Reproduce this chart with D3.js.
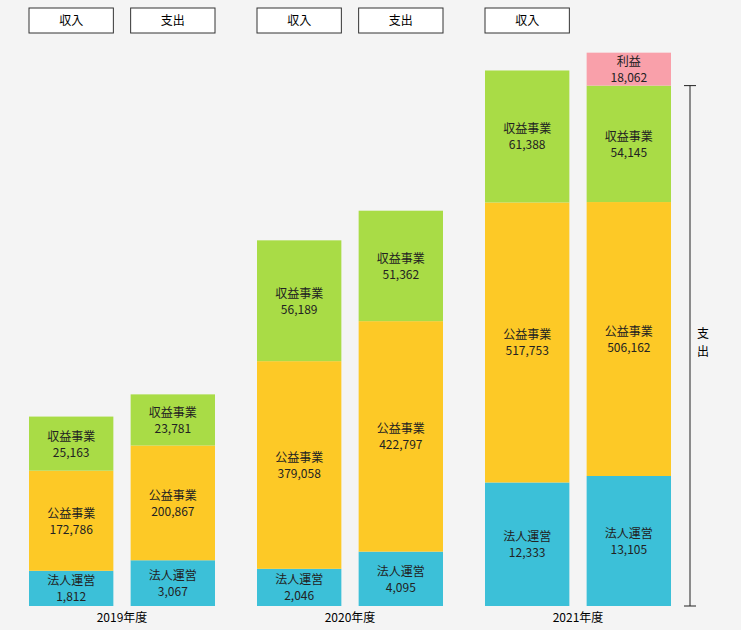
<!DOCTYPE html>
<html><head><meta charset="utf-8">
<script src="https://cdn.jsdelivr.net/npm/d3@7"></script>
<style>
body{margin:0;background:#f4f4f4;font-family:"Noto Sans CJK JP","Noto Sans",sans-serif;}
</style></head>
<body><svg id="svg1" width="741" height="630"></svg>
<script>
var years = ["2019年度", "2020年度", "2021年度"];
var sides = ["収入", "支出"];
var categories = ["法人運営", "公益事業", "収益事業", "利益"];
var incomeHojin = [1812, 2046, 12333];
var incomeKoeki = [172786, 379058, 517753];
var incomeShueki = [25163, 56189, 61388];
var expenseHojin = [3067, 4095, 13105];
var expenseKoeki = [200867, 422797, 506162];
var expenseShueki = [23781, 51362, 54145];
var profit = [0, 0, 18062];
var colors = {"法人運営": "#3cc0d8", "公益事業": "#fdc926", "収益事業": "#a9dc46", "利益": "#f9a0aa"};

var baseline = 606;
var svg = d3.select("#svg1");

// build rows: one per bar
var rows = [];
years.forEach(function(y, i) {
  rows.push({year: y, side: "収入", vals: [incomeHojin[i], incomeKoeki[i], incomeShueki[i], 0]});
  rows.push({year: y, side: "支出", vals: [expenseHojin[i], expenseKoeki[i], expenseShueki[i], profit[i]]});
});

// segments are not drawn to one common scale in the original; each category has its own
var scale = {
  x0: d3.scaleBand().domain(years).range([8, 692]),
  x1: d3.scaleBand().domain(sides).range([21, 207]).paddingInner(0.17),
  h: {
    "法人運営": d3.scaleLinear().domain([0, 13105]).range([20, 130]),
    "公益事業": d3.scaleLinear().domain([0, 517753]).range([10, 280]),
    "収益事業": d3.scaleLinear().domain([0, 61388]).range([0, 132]),
    "利益": d3.scaleLinear().domain([0, 61388]).range([0, 112])
  }
};
var bw = scale.x1.bandwidth();

rows.forEach(function(r) {
  var x = scale.x0(r.year) + scale.x1(r.side);
  var y = baseline;
  var g = svg.append("g");
  r.vals.forEach(function(v, k) {
    if (!v) return;
    var cat = categories[k];
    var h = scale.h[cat](v);
    y -= h;
    g.append("rect").attr("x", x).attr("y", y).attr("width", bw).attr("height", h)
      .attr("fill", colors[cat]);
    var t = g.append("text").attr("text-anchor", "middle").attr("font-size", 12).attr("fill", "#222");
    t.append("tspan").attr("x", x + bw / 2).attr("y", y + h / 2 - 3).text(cat);
    t.append("tspan").attr("x", x + bw / 2).attr("y", y + h / 2 + 13).text(d3.format(",")(v));
    if (cat === "収益事業") r.top = y;
  });
  if (r.vals[3]) {
    // brace for expenditure
    var bx = x + bw + 19;
    svg.append("line").attr("x1", bx).attr("x2", bx).attr("y1", r.top).attr("y2", baseline).attr("stroke", "#222");
    [r.top, baseline].forEach(function(yy) {
      svg.append("line").attr("x1", bx - 6).attr("x2", bx + 6).attr("y1", yy).attr("y2", yy).attr("stroke", "#222");
    });
    var ly = (r.top + baseline) / 2 - 8;
    svg.append("text").attr("x", bx + 13).attr("y", ly).attr("text-anchor", "middle").attr("font-size", 12).text("支");
    svg.append("text").attr("x", bx + 13).attr("y", ly + 18).attr("text-anchor", "middle").attr("font-size", 12).text("出");
  } else {
    svg.append("rect").attr("x", x).attr("y", 8).attr("width", bw).attr("height", 25)
      .attr("fill", "#fff").attr("stroke", "#333");
    svg.append("text").attr("x", x + bw / 2).attr("y", 25).attr("text-anchor", "middle")
      .attr("font-size", 12).text(r.side);
  }
});

svg.selectAll("text.year").data(years).enter().append("text")
  .attr("class", "year")
  .attr("x", function(d) { return scale.x0(d) + scale.x0.bandwidth() / 2; })
  .attr("y", 622).attr("text-anchor", "middle").attr("font-size", 12).text(function(d) { return d; });
</script></body></html>
